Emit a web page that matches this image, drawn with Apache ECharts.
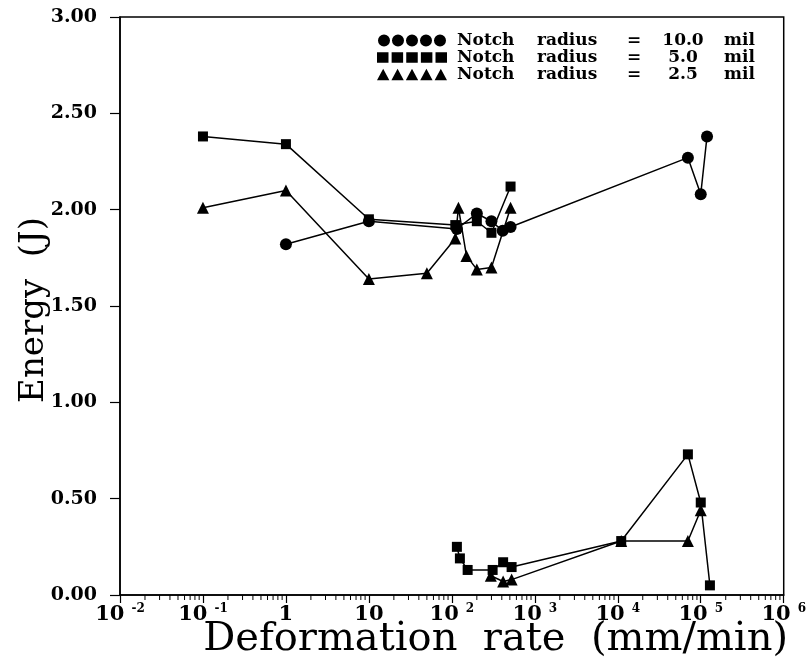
<!DOCTYPE html>
<html>
<head>
<meta charset="utf-8">
<script src="https://cdn.jsdelivr.net/npm/echarts@6/dist/echarts.min.js"></script>
<style>
  html, body { margin: 0; padding: 0; background: #fff; }
  #chart { width: 809px; height: 662px; }
</style>
</head>
<body>
<div id="chart"></div>
<script>
// notch radius 10.0 mil (circles)
var r10X = [1, 10, 115, 200, 300, 410, 510, 70000, 100000, 119000]
var r10Y = [1.82, 1.94, 1.90, 1.98, 1.94, 1.89, 1.91, 2.27, 2.08, 2.38]
// notch radius 5.0 mil (squares), upper and lower branch
var r5X = [0.1, 1, 10, 110, 200, 300, 510]
var r5Y = [2.38, 2.34, 1.95, 1.92, 1.94, 1.88, 2.12]
var r5LowX = [115, 125, 155, 310, 415, 525, 11000, 70000, 100000, 129000]
var r5LowY = [0.25, 0.19, 0.13, 0.13, 0.17, 0.145, 0.28, 0.73, 0.48, 0.05]
// notch radius 2.5 mil (triangles), upper and lower branch
var r25X = [0.1, 1, 10, 50, 110, 120, 150, 200, 300, 510]
var r25Y = [2.01, 2.10, 1.64, 1.67, 1.85, 2.01, 1.76, 1.69, 1.70, 2.01]
var r25LowX = [295, 415, 525, 11000, 70000, 100000]
var r25LowY = [0.10, 0.07, 0.08, 0.28, 0.28, 0.44]

// axis ticks
var xTickVals = [0.01, 0.1, 1, 10, 100, 1000, 10000, 100000, 1000000]
var xTickBase = ['10', '10', '1', '10', '10', '10', '10', '10', '10']
var xTickExp = ['-2', '-1', '', '', '2', '3', '4', '5', '6']
var decades = [0.01, 0.1, 1, 10, 100, 1000, 10000, 100000]
var minorMult = [2, 3, 4, 5, 6, 7, 8, 9]

var legendNames = ['Notch radius = 10.0 mil', 'Notch radius = 5.0 mil', 'Notch radius = 2.5 mil']
var legendRadius = ['10.0', '5.0', '2.5']

function pts(xs, ys) {
  return xs.map(function (x, i) { return [x, ys[i]] })
}

var minorTicks = []
decades.forEach(function (d) {
  minorMult.forEach(function (m) { minorTicks.push([d * m, 0]) })
})

var serif = '"DejaVu Serif", serif'
var iconCircles = 'path://M0,6a6,6 0 1,0 12,0a6,6 0 1,0 -12,0Z M14,6a6,6 0 1,0 12,0a6,6 0 1,0 -12,0Z M28,6a6,6 0 1,0 12,0a6,6 0 1,0 -12,0Z M42,6a6,6 0 1,0 12,0a6,6 0 1,0 -12,0Z M56,6a6,6 0 1,0 12,0a6,6 0 1,0 -12,0Z'
var iconSquares = 'path://M0,1h11v10h-11Z M14,1h11v10h-11Z M28,1h11v10h-11Z M42,1h11v10h-11Z M56,1h11v10h-11Z'
var iconTris = 'path://M0,12L6,1L12,12Z M14,12L20,1L26,12Z M28,12L34,1L40,12Z M42,12L48,1L54,12Z M56,12L62,1L68,12Z'

function lineSeries(name, data, symbol, size) {
  return {
    name: name,
    type: 'line',
    data: data,
    symbol: symbol,
    symbolSize: size,
    showAllSymbol: true,
    itemStyle: { color: '#000' },
    lineStyle: { color: '#000', width: 1.5 },
    emphasis: { disabled: true },
    z: 3,
  }
}

var legendFont = { fontFamily: serif, fontWeight: 'bold', fontSize: 17, lineHeight: 16, color: '#000' }

var myChart = echarts.init(document.getElementById('chart'))
var option = {
  backgroundColor: '#fff',
  animation: false,
  grid: {
    left: 120,
    right: 23,
    top: 17,
    bottom: 67,
    show: true,
    borderColor: '#000',
    borderWidth: 1.5,
  },
  legend: {
    data: [
      { name: legendNames[0], icon: iconCircles },
      { name: legendNames[1], icon: iconSquares },
      { name: legendNames[2], icon: iconTris },
    ],
    orient: 'vertical',
    left: 377,
    top: 32,
    itemWidth: 70,
    itemHeight: 12,
    itemGap: 0,
    padding: 0,
    selectedMode: false,
    formatter: function (name) {
      var i = legendNames.indexOf(name)
      return '{n|Notch}{r|radius}{e|=}{v|' + legendRadius[i] + '}{m|mil}'
    },
    textStyle: Object.assign({}, legendFont, {
      rich: {
        n: Object.assign({ width: 80, padding: [0, 0, 0, 5] }, legendFont),
        r: Object.assign({ width: 90 }, legendFont),
        e: Object.assign({ width: 32 }, legendFont),
        v: Object.assign({ width: 48, align: 'right' }, legendFont),
        m: Object.assign({ padding: [0, 0, 0, 17] }, legendFont),
      },
    }),
  },
  xAxis: {
    type: 'log',
    logBase: 10,
    min: 0.01,
    max: 1000000,
    axisLine: { show: true, lineStyle: { color: '#000', width: 1.5 } },
    axisTick: { show: true, length: 8, lineStyle: { color: '#000', width: 1.2 } },
    splitLine: { show: false },
    axisLabel: {
      margin: 8,
      color: '#000',
      formatter: function (v) {
        var i = xTickVals.findIndex(function (t) {
          return Math.abs(Math.log10(t) - Math.log10(v)) < 1e-6
        })
        if (i < 0) return ''
        if (!xTickExp[i]) return '{b|' + xTickBase[i] + '}'
        return '{b|' + xTickBase[i] + '}{s|' + xTickExp[i] + '}'
      },
      rich: {
        b: { fontFamily: serif, fontWeight: 'bold', fontSize: 21, color: '#000', lineHeight: 24 },
        s: { fontFamily: serif, fontWeight: 'bold', fontSize: 12, color: '#000', lineHeight: 12, verticalAlign: 'top', padding: [0, 0, 0, 7] },
      },
    },
  },
  yAxis: {
    type: 'value',
    min: 0,
    max: 3,
    interval: 0.5,
    axisLine: { show: true, lineStyle: { color: '#000', width: 1.5 } },
    axisTick: { show: true, length: 10, lineStyle: { color: '#000', width: 1.2 } },
    splitLine: { show: false },
    axisLabel: {
      margin: 23,
      color: '#000',
      fontFamily: serif,
      fontWeight: 'bold',
      fontSize: 19,
      formatter: function (v) { return v.toFixed(2) },
    },
  },
  graphic: [
    {
      type: 'text',
      x: 34,
      y: 310,
      rotation: Math.PI / 2,
      style: {
        text: 'Energy  (J)',
        font: 'normal 34px "DejaVu Serif", serif',
        fill: '#000',
        align: 'center',
        verticalAlign: 'middle',
      },
    },
    {
      type: 'text',
      x: 788,
      y: 640,
      style: {
        text: 'Deformation  rate  (mm/min)',
        font: 'normal 40px "DejaVu Serif", serif',
        fill: '#000',
        align: 'right',
        verticalAlign: 'middle',
      },
    },
  ],
  series: [
    lineSeries(legendNames[0], pts(r10X, r10Y), 'circle', 12),
    lineSeries(legendNames[1], pts(r5X, r5Y), 'rect', 10),
    lineSeries('5.0 mil low', pts(r5LowX, r5LowY), 'rect', 10),
    lineSeries(legendNames[2], pts(r25X, r25Y), 'triangle', 12),
    lineSeries('2.5 mil low', pts(r25LowX, r25LowY), 'triangle', 12),
    {
      // minor log ticks below the x axis
      type: 'custom',
      name: 'minor ticks',
      data: minorTicks,
      clip: false,
      silent: true,
      z: 4,
      renderItem: function (params, api) {
        var p = api.coord([api.value(0), 0])
        return {
          type: 'line',
          shape: { x1: p[0], y1: p[1], x2: p[0], y2: p[1] + 5 },
          style: { stroke: '#000', lineWidth: 1 },
        }
      },
    },
  ],
}
myChart.setOption(option)
</script>
</body>
</html>
